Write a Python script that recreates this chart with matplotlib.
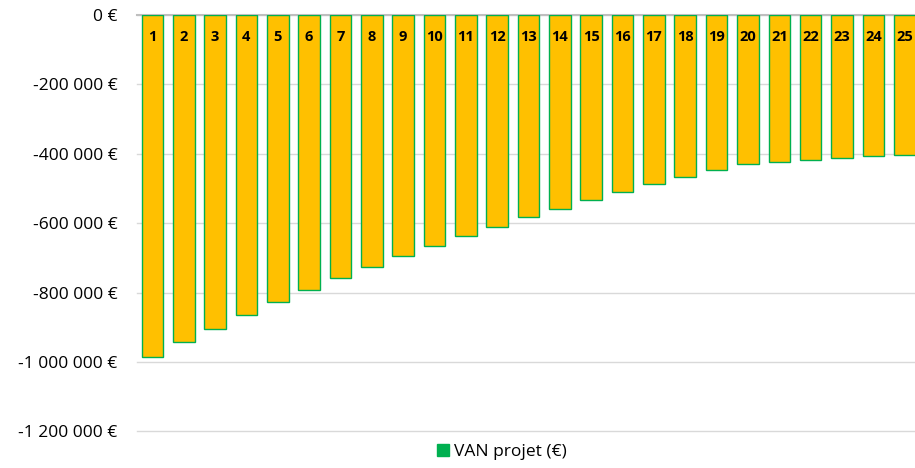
"""VAN projet par année : barres négatives, étiquettes en haut des barres."""

import matplotlib

matplotlib.use("Agg")
import matplotlib.pyplot as plt
from matplotlib.patches import Patch
from matplotlib.ticker import FuncFormatter, MultipleLocator
import numpy as np

years = list(range(1, 26))
van_projet = [
    -985_000, -943_000, -904_000, -865_000, -828_000,
    -793_000, -759_000, -726_000, -694_000, -666_000,
    -637_000, -610_000, -583_000, -558_000, -533_000,
    -510_000, -488_000, -467_000, -448_000, -428_000,
    -423_000, -417_000, -411_000, -407_000, -402_000,
]
series_label = "VAN projet (€)"

BAR_COLOR = "#FFC000"
EDGE_COLOR = "#00B050"

plt.rcParams["font.family"] = ["Open Sans", "DejaVu Sans"]


def euro(value, _pos):
    text = f"{abs(int(round(value))):,}".replace(",", " ")
    sign = "-" if value < 0 else ""
    return f"{sign}{text} €"


def main() -> None:
    fig = plt.figure(figsize=(9.15, 4.68), dpi=100)
    ax = fig.add_axes([0.1494, 0.078, 0.8565, 0.890])

    positions = np.arange(len(years))
    ax.bar(positions, van_projet, width=0.69, color=BAR_COLOR,
           edgecolor=EDGE_COLOR, linewidth=1.0, zorder=3)
    for x, year in zip(positions, years):
        ax.annotate(str(year), (x, 0), xytext=(0, -16), textcoords="offset points",
                    ha="center", va="center", fontsize=10.5, fontweight="bold",
                    color="black", zorder=4)

    ax.set_xlim(-0.5, len(years) - 0.5)
    ax.set_ylim(-1_200_000, 0)
    ax.yaxis.set_major_locator(MultipleLocator(200_000))
    ax.yaxis.set_major_formatter(FuncFormatter(euro))
    ax.set_xticks([])
    ax.tick_params(axis="y", length=0, pad=14, labelsize=12.5, colors="#000000")
    ax.grid(axis="y", color="#D9D9D9", linewidth=1.0, zorder=0)
    for line in ax.get_ygridlines():
        line.set_clip_on(False)
    for side in ("left", "right", "bottom"):
        ax.spines[side].set_visible(False)
    ax.spines["top"].set_color("#BFBFBF")
    ax.spines["top"].set_linewidth(1.5)
    ax.spines["top"].set_zorder(2)

    handle = Patch(facecolor=EDGE_COLOR, edgecolor=EDGE_COLOR)
    fig.legend([handle], [series_label], loc="center", bbox_to_anchor=(502 / 915, 1 - 452 / 468),
               frameon=False, fontsize=12.5, handlelength=0.7, handleheight=0.7,
               handletextpad=0.3)

    fig.savefig("out.png", dpi=100)
    plt.close(fig)


if __name__ == "__main__":
    main()
